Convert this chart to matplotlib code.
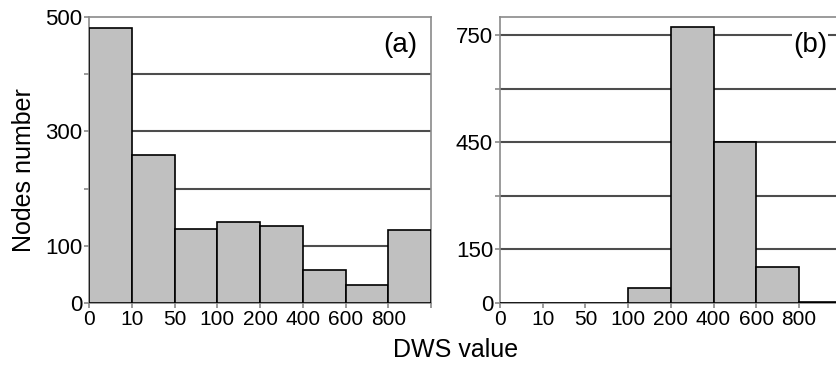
import matplotlib
matplotlib.use("Agg")
import matplotlib.pyplot as plt

plt.rcParams['font.family'] = ['Liberation Sans', 'DejaVu Sans']

bin_labels = ["0", "10", "50", "100", "200", "400", "600", "800", ""]
counts_a = [481, 259, 129, 142, 135, 57, 32, 127]
counts_b = [0, 0, 0, 43, 772, 451, 102, 4]
yticks_a = [0, 100, 200, 300, 400, 500]
ylabels_a = ["0", "100", "", "300", "", "500"]
yticks_b = [0, 150, 300, 450, 600, 750]
ylabels_b = ["0", "150", "", "450", "", "750"]

fig = plt.figure(figsize=(8.37, 3.71), dpi=100)
ax_a = fig.add_axes([89/837, 1-303/371, 342/837, 286/371])
ax_b = fig.add_axes([500/837, 1-303/371, 341.6/837, 286/371])

spine_col = "#8a8a8a"
grid_col = "#4d4d4d"

def style(ax, counts, yt, yl, ymax, tag, tagx):
    x = list(range(len(counts)))
    ax.bar(x, counts, width=1, align='edge', color="#c0c0c0",
           edgecolor="black", linewidth=1.2, zorder=3)
    ax.set_xlim(0, len(counts))
    ax.set_ylim(0, ymax)
    ax.set_xticks(range(len(bin_labels)))
    ax.set_xticklabels(bin_labels)
    ax.set_yticks(yt)
    ax.set_yticklabels(yl)
    for v in yt[1:]:
        if v < ymax:
            ax.axhline(v, color=grid_col, lw=1.5, zorder=1)
    for s in ax.spines.values():
        s.set_color(spine_col)
        s.set_linewidth(1.2)
    ax.tick_params(axis='both', direction='out', length=3.5, width=1.2,
                   color=spine_col, pad=1.5)
    ax.tick_params(axis='x', labelsize=15)
    ax.tick_params(axis='y', labelsize=16)
    ax.text(tagx, 0.902, tag, transform=ax.transAxes, ha='right', va='center',
            fontsize=20, zorder=5,
            bbox=dict(facecolor='white', edgecolor='none', pad=0.5))

style(ax_a, counts_a, yticks_a, ylabels_a, 500, "(a)", 0.959)
style(ax_b, counts_b, yticks_b, ylabels_b, 800, "(b)", 0.957)

fig.text(24/837, 1-170/371, "Nodes number", rotation=90, ha='center', va='center', fontsize=18)
fig.text(456/837, 1-350/371, "DWS value", ha='center', va='center', fontsize=18)

fig.savefig("out.png", dpi=100)
